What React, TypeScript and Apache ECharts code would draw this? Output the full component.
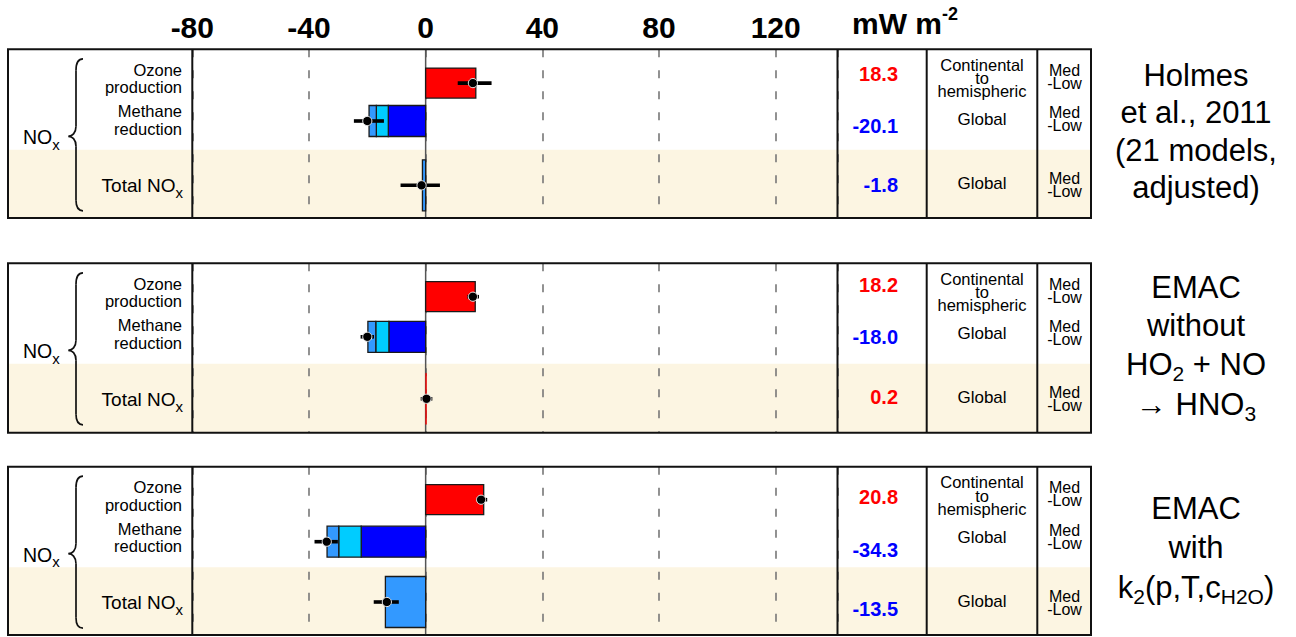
import React, { useEffect, useRef } from 'react';
import * as echarts from 'echarts';

// ---------------- data ----------------
const X_TICKS = [-80, -40, 0, 40, 80, 120];
const X_MIN = -80;
const X_MAX = 141.2;
const ROW_LABELS = ['Ozone production', 'Methane reduction', 'Total NOx'];

// one entry per panel: Holmes et al. 2011, EMAC without HO2+NO->HNO3, EMAC with k2(p,T,cH2O)
const OZONE = [17.2, 17.0, 19.9];
const METHANE_CORE = [-12.8, -12.6, -22.1];
const METHANE_MID = [-16.9, -17.1, -29.8];
const METHANE_OUTER = [-19.4, -19.8, -33.8];
const TOTAL = [-1.1, 0.2, -13.8];

const OZONE_ERR_LOW = [11.0, 14.3, 17.9];
const OZONE_ERR_MID = [16.2, 16.2, 19.0];
const OZONE_ERR_HIGH = [22.6, 18.3, 21.1];
const METHANE_ERR_LOW = [-24.6, -22.3, -38.1];
const METHANE_ERR_MID = [-20.0, -20.0, -33.9];
const METHANE_ERR_HIGH = [-14.3, -17.7, -30.1];
const TOTAL_ERR_LOW = [-8.6, -1.7, -17.8];
const TOTAL_ERR_MID = [-1.4, 0.3, -13.3];
const TOTAL_ERR_HIGH = [4.9, 2.3, -9.2];

const TABLE_VALUES = [
  [18.3, -20.1, -1.8],
  [18.2, -18.0, 0.2],
  [20.8, -34.3, -13.5],
];
const SPATIAL_SCALE = ['Continental\nto\nhemispheric', 'Global', 'Global'];
const CONFIDENCE = 'Med\n-Low';
const UNIT = ['mW m', '-2'];

type Part = { t: string; sub?: boolean };
const PANEL_TITLES: Part[][][] = [
  [[{ t: 'Holmes' }], [{ t: 'et al., 2011' }], [{ t: '(21 models,' }], [{ t: 'adjusted)' }]],
  [
    [{ t: 'EMAC' }],
    [{ t: 'without' }],
    [{ t: 'HO' }, { t: '2', sub: true }, { t: ' + NO' }],
    [{ t: '\u2192 HNO' }, { t: '3', sub: true }],
  ],
  [
    [{ t: 'EMAC' }],
    [{ t: 'with' }],
    [{ t: 'k' }, { t: '2', sub: true }, { t: '(p,T,c' }, { t: 'H2O', sub: true }, { t: ')' }],
  ],
];

// ---------------- layout / style ----------------
const FF = '"Liberation Sans", Arial, sans-serif';
const PANEL_TOP = [49.3, 263.3, 466.7];
const PANEL_H = [168.7, 169.4, 168.3];
const FRAME_L = 8;
const FRAME_R = 1091;
const PLOT_L = 192.3;
const PLOT_R = 837.5;
const COL_X = [8, 192.3, 837.5, 926.7, 1037.3, 1091];
const BEIGE_REL = 100.5;
const ROW_CENTER = [
  [33.8, 71.7, 136],
  [33.4, 73.5, 135.5],
  [33, 75, 135.3],
];
const ROW_H = [30, 31, 51];
const NUM_Y = [
  [24.7, 76.7, 135.7],
  [21.7, 73.7, 133.4],
  [30, 83.3, 142.3],
];
const TITLE_Y = [
  [75, 112.5, 150, 187.5],
  [287, 325, 364, 404],
  [508, 547, 587],
];
const COLORS = ['#ff0000', '#0000ff', '#00ccff', '#3399ff'];
const BEIGE = '#fcf5e2';

let measureCtx: CanvasRenderingContext2D | null = null;
function tw(text: string, size: number, bold = false) {
  if (!measureCtx) measureCtx = document.createElement('canvas').getContext('2d');
  if (!measureCtx) return text.length * size * 0.55;
  measureCtx.font = `${bold ? 'bold ' : ''}${size}px "Liberation Sans", Arial, sans-serif`;
  return measureCtx.measureText(text).width;
}

function textStyle(text: string, size: number, align: string, opts: any = {}) {
  return {
    text,
    fontSize: size,
    fontWeight: opts.bold ? 'bold' : 'normal',
    fontFamily: FF,
    fill: opts.color || '#000',
    lineHeight: opts.lineHeight,
    textAlign: align,
    textVerticalAlign: 'middle',
    align,
    verticalAlign: 'middle',
  };
}

// a multi-line block, centred vertically on y
function block(text: string, x: number, y: number, size: number, lineHeight: number, align: string, opts: any = {}) {
  return { type: 'text', x, y, z: 30, silent: true, style: textStyle(text, size, align, { ...opts, lineHeight }) };
}

type Seg = { t: string; s: number; b?: boolean; dy?: number; c?: string };
function textLine(parts: Seg[], x: number, y: number, align: 'left' | 'center' | 'right', z = 30) {
  const ws = parts.map((p) => tw(p.t, p.s, p.b));
  const total = ws.reduce((a, b) => a + b, 0);
  let cx = align === 'left' ? x : align === 'center' ? x - total / 2 : x - total;
  return parts.map((p, i) => {
    const el = {
      type: 'text',
      x: cx,
      y: y + (p.dy || 0),
      z,
      silent: true,
      style: textStyle(p.t, p.s, 'left', { bold: p.b, color: p.c }),
    };
    cx += ws[i];
    return el;
  });
}

function buildGraphics() {
  const els: any[] = [];
  // header unit
  els.push(...textLine([{ t: UNIT[0], s: 30, b: true }, { t: UNIT[1], s: 18, b: true, dy: -9 }], 852, 23, 'left'));

  for (let p = 0; p < 3; p++) {
    const T = PANEL_TOP[p];
    const H = PANEL_H[p];
    const B = T + H;
    // backgrounds
    els.push({ type: 'rect', z: -10, silent: true, shape: { x: FRAME_L, y: T, width: FRAME_R - FRAME_L, height: H }, style: { fill: '#ffffff' } });
    els.push({ type: 'rect', z: -9, silent: true, shape: { x: FRAME_L, y: T + BEIGE_REL, width: FRAME_R - FRAME_L, height: H - BEIGE_REL }, style: { fill: BEIGE } });
    // frame
    const ls = { stroke: '#111', lineWidth: 2 };
    els.push({ type: 'line', z: 50, silent: true, shape: { x1: FRAME_L - 1, y1: T, x2: FRAME_R + 1, y2: T }, style: ls });
    els.push({ type: 'line', z: 50, silent: true, shape: { x1: FRAME_L - 1, y1: B, x2: FRAME_R + 1, y2: B }, style: ls });
    COL_X.forEach((cx) => {
      els.push({ type: 'line', z: 50, silent: true, shape: { x1: cx, y1: T, x2: cx, y2: B }, style: ls });
    });
    // brace
    const bs = { stroke: '#111', lineWidth: 1.7, fill: null };
    const bx = 76, tip = 83, mid = 68.5, my = T + 87;
    els.push({ type: 'bezierCurve', z: 30, silent: true, shape: { x1: tip, y1: T + 9.5, cpx1: 78, cpy1: T + 9.5, cpx2: bx, cpy2: T + 13, x2: bx, y2: T + 21 }, style: bs });
    els.push({ type: 'line', z: 30, silent: true, shape: { x1: bx, y1: T + 21, x2: bx, y2: my - 10 }, style: bs });
    els.push({ type: 'bezierCurve', z: 30, silent: true, shape: { x1: bx, y1: my - 10, cpx1: bx, cpy1: my - 3, cpx2: 72, cpy2: my, x2: mid, y2: my }, style: bs });
    els.push({ type: 'bezierCurve', z: 30, silent: true, shape: { x1: mid, y1: my, cpx1: 72, cpy1: my, cpx2: bx, cpy2: my + 3, x2: bx, y2: my + 10 }, style: bs });
    els.push({ type: 'line', z: 30, silent: true, shape: { x1: bx, y1: my + 10, x2: bx, y2: T + 151 }, style: bs });
    els.push({ type: 'bezierCurve', z: 30, silent: true, shape: { x1: bx, y1: T + 151, cpx1: bx, cpy1: T + 158, cpx2: 78, cpy2: T + 161.5, x2: tip, y2: T + 161.5 }, style: bs });
    // NOx group label
    els.push(...textLine([{ t: 'NO', s: 19.5 }, { t: 'x', s: 15, dy: 7 }], 23, T + 88, 'left'));
    // row labels
    els.push(block(ROW_LABELS[0].replace(' ', '\n'), 182, T + 29.3, 16.5, 17.5, 'right'));
    els.push(block(ROW_LABELS[1].replace(' ', '\n'), 182, T + 70.8, 16.5, 17.5, 'right'));
    els.push(...textLine([{ t: ROW_LABELS[2].slice(0, -1), s: 19 }, { t: 'x', s: 15, dy: 7 }], 183, T + 136, 'right'));
    // table values
    for (let r = 0; r < 3; r++) {
      const v = TABLE_VALUES[p][r];
      els.push(...textLine([{ t: v.toFixed(1), s: 20, b: true, c: v >= 0 ? '#ff0000' : '#0000ff' }], 898, T + NUM_Y[p][r], 'right'));
    }
    // spatial scale
    const sc = 982;
    els.push(block(SPATIAL_SCALE[0], sc, T + 28.8, 16.5, 13.4, 'center'));
    els.push(block(SPATIAL_SCALE[1], sc, T + 70.5, 17, 17, 'center'));
    els.push(block(SPATIAL_SCALE[2], sc, T + 134.5, 17, 17, 'center'));
    // confidence
    const cc = 1064.5;
    [27.3, 70, 136].forEach((yy) => {
      els.push(block(CONFIDENCE, cc, T + yy, 16, 13, 'center'));
    });
    // panel titles
    PANEL_TITLES[p].forEach((ln, i) => {
      const segs: Seg[] = ln.map((q) => (q.sub ? { t: q.t, s: 21, dy: 9 } : { t: q.t, s: 31 }));
      els.push(...textLine(segs, 1196, TITLE_Y[p][i], 'center'));
    });
  }
  return els;
}

function makeBarRender(p: number) {
  return (params: any, api: any) => {
    const s = api.value(0);
    const e = api.value(1);
    const row = api.value(2);
    const c = api.value(3);
    const x0 = api.coord([s, row])[0];
    const x1 = api.coord([e, row])[0];
    const cs = params.coordSys;
    const yc = cs.y + ROW_CENTER[p][row];
    const h = ROW_H[row];
    const w = Math.abs(x1 - x0);
    return {
      type: 'rect',
      shape: { x: Math.min(x0, x1), y: yc - h / 2, width: Math.max(w, 0.8), height: h },
      style: { fill: COLORS[c], stroke: w < 2 ? COLORS[c] : '#1a1a1a', lineWidth: w < 2 ? 0.5 : 1.3 },
    };
  };
}

function makeErrRender(p: number) {
  return (params: any, api: any) => {
    const lo = api.value(0);
    const mid = api.value(1);
    const hi = api.value(2);
    const row = api.value(3);
    const xl = api.coord([lo, row])[0];
    const xm = api.coord([mid, row])[0];
    const xh = api.coord([hi, row])[0];
    const yc = params.coordSys.y + ROW_CENTER[p][row];
    return {
      type: 'group',
      children: [
        { type: 'line', shape: { x1: xl, y1: yc, x2: xh, y2: yc }, style: { stroke: '#000', lineWidth: 3.6 } },
        { type: 'circle', shape: { cx: xm, cy: yc, r: 4.6 }, style: { fill: '#000', stroke: '#e8e8e8', lineWidth: 1 } },
      ],
    };
  };
}

function buildOption() {
  const grids: any[] = [];
  const xAxes: any[] = [];
  const yAxes: any[] = [];
  const series: any[] = [];
  for (let p = 0; p < 3; p++) {
    grids.push({ left: PLOT_L, top: PANEL_TOP[p], width: PLOT_R - PLOT_L, height: PANEL_H[p], containLabel: false });
    xAxes.push({
      type: 'value',
      gridIndex: p,
      min: X_MIN,
      max: X_MAX,
      interval: X_TICKS[1] - X_TICKS[0],
      position: 'top',
      axisLine: { show: false },
      axisTick: { show: false },
      axisLabel: {
        show: p === 0,
        showMaxLabel: false,
        fontSize: 30,
        fontWeight: 'bold',
        fontFamily: FF,
        color: '#000',
        margin: 7,
      },
      splitLine: { show: true, lineStyle: { color: '#777', width: 1.6, type: [8, 13] } },
    });
    yAxes.push({
      type: 'value',
      gridIndex: p,
      inverse: true,
      min: -0.5,
      max: ROW_LABELS.length - 0.5,
      show: false,
      splitLine: { show: false },
    });
    const bars = [
      [0, OZONE[p], 0, 0],
      [0, METHANE_CORE[p], 1, 1],
      [METHANE_CORE[p], METHANE_MID[p], 1, 2],
      [METHANE_MID[p], METHANE_OUTER[p], 1, 3],
      [0, TOTAL[p], 2, TOTAL[p] >= 0 ? 0 : 3],
    ];
    series.push({
      type: 'custom',
      xAxisIndex: p,
      yAxisIndex: p,
      renderItem: makeBarRender(p),
      encode: { x: [0, 1], y: 2 },
      data: bars,
      z: 5,
      silent: true,
    });
    series.push({
      type: 'line',
      xAxisIndex: p,
      yAxisIndex: p,
      data: [[0, -0.5], [0, ROW_LABELS.length - 0.5]],
      symbol: 'none',
      silent: true,
      lineStyle: { color: '#555', width: 1.5 },
      z: 3,
    });
    const errs = [
      [OZONE_ERR_LOW[p], OZONE_ERR_MID[p], OZONE_ERR_HIGH[p], 0],
      [METHANE_ERR_LOW[p], METHANE_ERR_MID[p], METHANE_ERR_HIGH[p], 1],
      [TOTAL_ERR_LOW[p], TOTAL_ERR_MID[p], TOTAL_ERR_HIGH[p], 2],
    ];
    series.push({
      type: 'custom',
      xAxisIndex: p,
      yAxisIndex: p,
      renderItem: makeErrRender(p),
      encode: { x: [0, 1, 2], y: 3 },
      data: errs,
      z: 8,
      silent: true,
    });
  }
  return {
    animation: false,
    backgroundColor: '#ffffff',
    grid: grids,
    xAxis: xAxes,
    yAxis: yAxes,
    series,
    graphic: { elements: buildGraphics() },
  };
}

export default function App() {
  const ref = useRef<HTMLDivElement>(null);
  useEffect(() => {
    if (!ref.current) return;
    const chart = echarts.init(ref.current, undefined, { renderer: 'svg' });
    chart.setOption(buildOption() as any);
    return () => chart.dispose();
  }, []);
  return (
    <div
      ref={ref}
      style={{ position: 'fixed', left: 0, top: 0, width: 1296, height: 637, background: '#fff' }}
    />
  );
}
